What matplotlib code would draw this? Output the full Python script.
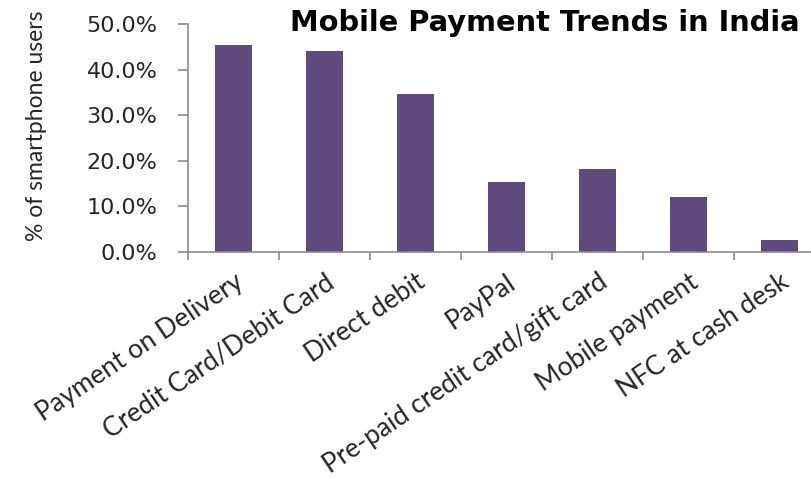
import numpy as np
import matplotlib
matplotlib.use("Agg")
import matplotlib.pyplot as plt
import matplotlib.transforms as mtransforms
from matplotlib.ticker import PercentFormatter

categories = ["Payment on Delivery", "Credit Card/Debit Card", "Direct debit", "PayPal",
              "Pre-paid credit card/gift card", "Mobile payment", "NFC at cash desk"]
values = [45.4, 44.1, 34.6, 15.4, 18.2, 12.1, 2.6]
yticks = [0, 10, 20, 30, 40, 50]

bar_color = "#5e4a7c"
axis_color = "#8c8c8c"
text_color = "#262626"

fig = plt.figure(figsize=(8.12, 4.79), dpi=100)
ax = fig.add_axes([0.2315, 0.474, 0.7845, 0.476])

x = np.arange(len(categories))
ax.bar(x, values, width=0.4, color=bar_color)

ax.set_xlim(-0.5, len(categories) - 0.5)
ax.set_ylim(0, 50)
ax.set_yticks(yticks)
ax.yaxis.set_major_formatter(PercentFormatter(decimals=1))

for s in ["top", "right"]:
    ax.spines[s].set_visible(False)
for s in ["left", "bottom"]:
    ax.spines[s].set_color(axis_color)
    ax.spines[s].set_linewidth(1.2)

# tick marks on category boundaries, names at bar centres
ax.set_xticks(x)
ax.set_xticks(np.arange(len(categories) + 1) - 0.5, minor=True)
ax.tick_params(axis="x", which="major", length=0, pad=20)
ax.tick_params(axis="x", which="minor", length=6, color=axis_color, width=1.2)
ax.tick_params(axis="y", length=7, color=axis_color, width=1.2, pad=15,
               labelsize=16, labelcolor=text_color)

ax.set_xticklabels(categories, rotation=34, ha="right", va="center", rotation_mode="anchor",
                   fontsize=19, family="Lato", color=text_color)
shift = mtransforms.ScaledTranslation(0.07, 0, fig.dpi_scale_trans)
for lab in ax.get_xticklabels():
    lab.set_transform(lab.get_transform() + shift)

ax.set_ylabel("% of smartphone users", fontsize=16.5, color=text_color, family="Lato")
ax.yaxis.set_label_coords(-0.221, 0.553)

fig.text(0.357, 0.953, "Mobile Payment Trends in India", fontsize=20.8, fontweight="bold",
         ha="left", va="center")

fig.savefig("out.png", dpi=100)
